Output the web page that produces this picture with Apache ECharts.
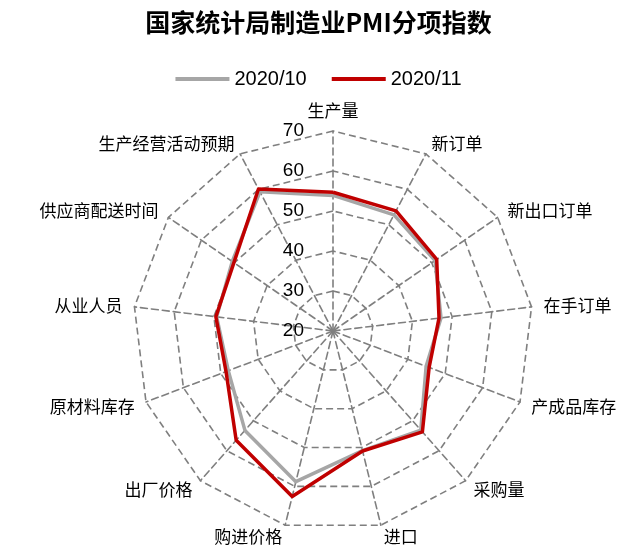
<!DOCTYPE html>
<html><head><meta charset="utf-8">
<script src="https://cdn.jsdelivr.net/npm/echarts@6/dist/echarts.min.js"></script>
<style>html,body{margin:0;padding:0;background:#fff}#c{width:637px;height:548px}</style>
</head><body><div id="c"></div>
<script>
// Indicators in clockwise order starting from the top
var categories = ['生产量','新订单','新出口订单','在手订单','产成品库存','采购量','进口','购进价格','出厂价格','原材料库存','从业人员','供应商配送时间','生产经营活动预期'];
var oct2020 = [53.9, 52.8, 51.0, 47.2, 44.9, 53.1, 50.8, 58.8, 53.2, 48.0, 49.3, 50.6, 59.3];
var nov2020 = [54.7, 53.9, 51.5, 46.7, 45.7, 53.7, 50.9, 62.6, 56.5, 48.6, 49.5, 50.1, 60.1];
var seriesNames = ['2020/10', '2020/11'];
var tickMin = 20, tickMax = 70, tickStep = 10;

// ECharts radar runs counter-clockwise: keep the first item, reverse the rest
function cw(arr){ return [arr[0]].concat(arr.slice(1).reverse()); }

var chart = echarts.init(document.getElementById('c'));
var center = [333, 331], radius = 200;
chart.setOption({
  backgroundColor: '#fff',
  animation: false,
  title: {
    text: '国家统计局制造业PMI分项指数',
    left: 'center', top: 5,
    textStyle: {fontFamily: 'Noto Sans CJK SC', fontSize: 25, fontWeight: 'bold', color: '#000'}
  },
  legend: {
    top: 64, left: 'center',
    itemWidth: 54, itemHeight: 4, itemGap: 25,
    icon: 'rect',
    textStyle: {fontFamily: 'Liberation Sans, Arial', fontSize: 20, color: '#000'},
    data: seriesNames
  },
  radar: {
    center: center, radius: radius,
    shape: 'polygon',
    startAngle: 90,
    splitNumber: 5,
    indicator: cw(categories).map(function(n){ return {name: n, min: tickMin, max: tickMax}; }),
    axisName: {color: '#000', fontFamily: 'Noto Sans CJK SC', fontSize: 17},
    nameGap: 12,
    splitArea: {show: false},
    splitLine: {lineStyle: {color: '#7f7f7f', type: [7, 4], width: 1.6}},
    axisLine: {lineStyle: {color: '#7f7f7f', type: [7, 4], width: 1.6}}
  },
  polar: {center: center, radius: radius},
  angleAxis: {show: false, startAngle: 90, min: 0, max: 360},
  radiusAxis: {
    min: tickMin, max: tickMax, interval: tickStep,
    axisLine: {show: false}, axisTick: {show: false}, splitLine: {show: false},
    axisLabel: {show: true, margin: 29, color: '#000', fontFamily: 'Liberation Sans, Arial', fontSize: 19}
  },
  series: [{
    type: 'radar',
    symbol: 'none',
    data: [
      {name: seriesNames[0], value: cw(oct2020), lineStyle: {color: '#A6A6A6', width: 3.5}, itemStyle: {color: '#A6A6A6'}},
      {name: seriesNames[1], value: cw(nov2020), lineStyle: {color: '#C00000', width: 3.5}, itemStyle: {color: '#C00000'}}
    ]
  }]
});
</script></body></html>
